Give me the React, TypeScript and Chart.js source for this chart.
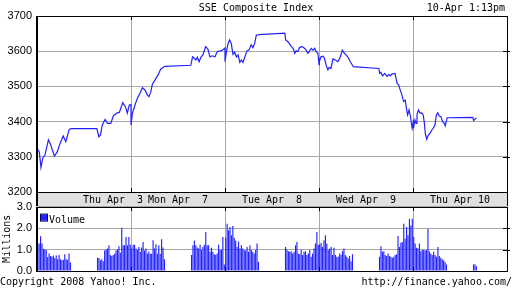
import React, { useEffect, useRef } from "react";
import { Chart, registerables } from "chart.js";

Chart.register(...registerables);

// ---------- text ----------
const TITLE = "SSE Composite Index";
const STAMP = "10-Apr 1:13pm";
const COPYRIGHT = "Copyright 2008 Yahoo! Inc.";
const SOURCE = "http://finance.yahoo.com/";
const VOLUME_LABEL = "Volume";
const VOLUME_AXIS_TITLE = "Millions";

// ---------- categories / ticks ----------
const dayLabels = ["Thu Apr  3", "Mon Apr  7", "Tue Apr  8", "Wed Apr  9", "Thu Apr 10"];
const priceTicks = [3200, 3300, 3400, 3500, 3600, 3700];
const volumeTicks = [0, 1, 2, 3];
const sessionOpen = "09:30";
const lunchOpen = "13:00";
const sessionClose = "15:00";
const barMinutes = 5;

// ---------- price (index level) ----------
const apr3Times = ["09:30","09:38","09:44","09:50","09:58","10:10","10:18","10:31","10:41","10:51","11:02","11:11","11:23","11:30","13:00","13:07","13:13","13:19","13:29","13:37","13:49","13:58","14:10","14:19","14:31","14:41","14:47","14:54","15:00"];
const apr3Prices = [3325,3314,3270,3296,3305,3348,3334,3302,3314,3338,3359,3343,3378,3380,3380,3357,3362,3390,3406,3395,3395,3416,3424,3426,3454,3441,3424,3447,3448];

const apr7Times = ["09:30","09:35","09:44","09:52","10:00","10:10","10:19","10:27","10:33","10:39","10:45","10:54","11:06","11:14","11:26","11:30","13:00","13:06","13:12","13:18","13:23","13:29","13:35","13:43","13:52","14:00","14:07","14:15","14:25","14:33","14:45","14:54","15:00"];
const apr7Prices = [3390,3424,3447,3466,3478,3496,3490,3476,3471,3483,3506,3518,3534,3549,3556,3557,3560,3584,3580,3575,3583,3570,3582,3591,3613,3606,3584,3587,3584,3599,3601,3605,3609];

const apr8Times = ["09:30","09:35","09:41","09:46","09:52","09:58","10:04","10:10","10:16","10:22","10:27","10:33","10:39","10:47","10:54","11:02","11:08","11:14","11:20","11:26","11:30","13:00","13:03","13:11","13:17","13:23","13:29","13:35","13:40","13:46","13:52","14:01","14:10","14:15","14:21","14:27","14:33","14:39","14:45","14:50","14:56","15:00"];
const apr8Prices = [3570,3599,3622,3632,3622,3591,3597,3584,3589,3568,3575,3568,3582,3601,3603,3618,3610,3622,3646,3646,3647,3651,3632,3627,3620,3613,3608,3594,3601,3599,3611,3613,3608,3603,3594,3601,3608,3603,3608,3599,3594,3562];

const apr9Times = ["09:30","09:33","09:37","09:44","09:49","09:56","10:01","10:06","10:12","10:19","10:27","10:36","10:43","10:47","10:52","10:59","11:06","11:14","11:20","11:29","11:30","13:00","13:03","13:07","13:13","13:21","13:29","13:35","13:40","13:46","13:57","14:04","14:10","14:15","14:21","14:27","14:33","14:36","14:41","14:46","14:51","14:57","15:00"];
const apr9Prices = [3580,3572,3584,3586,3580,3558,3547,3554,3551,3578,3575,3570,3580,3589,3603,3594,3589,3580,3570,3558,3556,3551,3537,3540,3530,3537,3528,3534,3530,3535,3537,3509,3504,3490,3476,3457,3461,3442,3419,3433,3414,3381,3395];

const apr10Times = ["09:30","09:33","09:37","09:41","09:44","09:49","09:55","10:01","10:06","10:10","10:13","10:18","10:24","10:30","10:36","10:41","10:47","10:52","10:57","11:02","11:08","11:14","11:20","11:23","11:29","11:30","13:00","13:03","13:08","13:13"];
const apr10Prices = [3405,3381,3405,3395,3419,3433,3424,3425,3419,3395,3367,3350,3362,3367,3376,3381,3390,3419,3425,3416,3414,3400,3395,3388,3407,3411,3412,3403,3407,3410];

// ---------- volume (millions, 5-minute bars) ----------
const apr3VolAM = [1.28,1.28,1.62,1.28,1.04,1.0,0.98,0.65,0.82,0.7,0.66,0.72,0.6,0.72,0.55,0.75,0.55,0.5,0.52,0.78,0.55,0.52,0.82,0.4];
const apr3VolPM = [0.62,0.6,0.5,0.55,0.45,0.95,1.0,1.05,1.2,0.75,0.7,0.75,0.8,0.95,1.0,1.15,0.85,2.02,1.2,1.2,1.58,1.2,1.58,1.22];
const apr7VolAM = [1.05,1.22,1.22,1.05,0.98,1.12,0.9,1.1,1.35,0.95,1.05,0.8,0.9,0.8,0.8,1.43,1.05,1.25,0.8,1.2,0.8,1.48,1.1,0.55];
const apr7VolPM = [0.75,1.2,1.42,1.2,1.1,1.05,1.22,0.98,1.12,1.22,1.82,1.2,1.2,0.9,1.08,0.9,0.78,0.75,0.82,1.22,0.98,1.0,1.58,0.3];
const apr8VolAM = [1.55,2.2,1.9,2.05,1.66,2.1,1.55,1.42,1.12,1.38,1.05,1.2,1.05,0.98,0.95,1.12,0.9,1.2,0.98,0.9,0.82,0.98,1.28,0.43];
const apr8VolPM = [1.12,1.0,0.92,0.9,0.92,0.82,0.9,1.2,1.35,0.82,0.78,0.98,0.75,0.9,0.92,0.75,0.82,0.98,0.66,0.82,1.05,1.28,1.82,1.22];
const apr9VolAM = [1.23,1.32,1.12,1.43,1.66,1.28,0.98,1.05,1.12,0.74,1.08,0.74,0.66,0.66,0.82,0.74,0.92,1.05,0.74,0.66,0.58,0.7,0.45,0.78];
const apr9VolPM = [0.66,1.15,0.9,0.92,0.74,0.7,0.82,0.7,0.66,0.62,0.66,0.74,0.78,1.63,1.12,1.32,1.35,2.2,1.5,2.05,1.66,2.43,2.12,2.43];
const apr10VolAM = [1.58,1.28,1.08,1.05,1.28,0.92,0.98,0.98,0.95,0.98,1.97,0.92,0.82,0.74,0.9,0.74,0.66,1.12,0.7,0.62,0.55,0.5,0.42,0.3];
const apr10VolPM = [0.3,0.32,0.22];

// ---------- derived ----------
const minutesOf = (t: string) => {
  const [h, m] = t.split(":").map(Number);
  return h * 60 + m;
};
const DAY_SPAN = minutesOf(sessionClose) - minutesOf(sessionOpen);
const xOf = (day: number, t: string) => day * DAY_SPAN + minutesOf(t) - minutesOf(sessionOpen);
const dayEdges = dayLabels.map((_, i) => i * DAY_SPAN).concat([dayLabels.length * DAY_SPAN]);

const priceDays = [
  [apr3Times, apr3Prices],
  [apr7Times, apr7Prices],
  [apr8Times, apr8Prices],
  [apr9Times, apr9Prices],
  [apr10Times, apr10Prices],
] as [string[], number[]][];
const pricePoints = priceDays.flatMap(([times, prices], d) =>
  times.map((t, j) => ({ x: xOf(d, t), y: prices[j] }))
);

const volumeDays = [
  [apr3VolAM, apr3VolPM],
  [apr7VolAM, apr7VolPM],
  [apr8VolAM, apr8VolPM],
  [apr9VolAM, apr9VolPM],
  [apr10VolAM, apr10VolPM],
];
const volumePoints = volumeDays.flatMap(([am, pm], d) => [
  ...am.map((v, k) => ({ x: xOf(d, sessionOpen) + k * barMinutes + barMinutes / 2, y: v })),
  ...pm.map((v, k) => ({ x: xOf(d, lunchOpen) + k * barMinutes + barMinutes / 2, y: v })),
]);

// ---------- styles ----------
const BLUE = "#2222ff";
const GRID = "#a8a8a8";
const BAND = "#e0e0e0";
const MONO = '"DejaVu Sans Mono", monospace';
const SANS = '"Liberation Sans", Arial, sans-serif';
const FIRST_LABEL_SHIFT = 29;

function drawFrame(chart: any, ctx: CanvasRenderingContext2D, xs: any, ys: any, yTickVals: number[]) {
  const { left, right, top, bottom } = chart.chartArea;
  ctx.save();
  ctx.fillStyle = "#000";
  ctx.fillRect(Math.round(left) - 1, Math.round(top), 2, Math.round(bottom - top) + 1);
  ctx.fillRect(Math.round(left) - 1, Math.round(top), Math.round(right - left) + 2, 1);
  ctx.fillRect(Math.round(left) - 1, Math.round(bottom), Math.round(right - left) + 2, 1);
  ctx.fillRect(Math.round(right), Math.round(top), 1, Math.round(bottom - top) + 1);
  dayEdges.slice(1, -1).forEach((v) => {
    const px = Math.round(xs.getPixelForValue(v));
    ctx.fillRect(px, Math.round(top), 1, 4);
    ctx.fillRect(px, Math.round(bottom) - 4, 1, 5);
  });
  yTickVals.forEach((v) => {
    const py = Math.round(ys.getPixelForValue(v));
    ctx.fillRect(Math.round(right) - 4, py, 7, 1);
  });
  ctx.restore();
}

const pricePlugin = {
  id: "priceDecor",
  afterDatasetsDraw(chart: any) {
    const ctx = chart.ctx as CanvasRenderingContext2D;
    const xs = chart.scales.x;
    const ys = chart.scales.y;
    const { left, right, bottom } = chart.chartArea;
    ctx.save();
    ctx.fillStyle = BAND;
    ctx.fillRect(Math.round(left), Math.round(bottom) + 1, Math.round(right - left), chart.height - Math.round(bottom) - 1);
    ctx.fillStyle = "#000";
    ctx.fillRect(Math.round(left) - 1, Math.round(bottom), 2, chart.height - Math.round(bottom));
    ctx.fillRect(Math.round(right), Math.round(bottom), 1, chart.height - Math.round(bottom));
    ctx.font = `10px ${MONO}`;
    ctx.textAlign = "center";
    ctx.textBaseline = "alphabetic";
    dayLabels.forEach((lab, i) => {
      let cx = xs.getPixelForValue(i * DAY_SPAN + DAY_SPAN / 2);
      if (i === 0) cx += FIRST_LABEL_SHIFT;
      ctx.fillText(lab, cx, 203);
    });
    ctx.fillText(TITLE, 256, 10.5);
    ctx.textAlign = "right";
    ctx.fillText(STAMP, 505, 10.5);
    ctx.restore();
    drawFrame(chart, ctx, xs, ys, priceTicks.slice(1, -1));
  },
};

const volumePlugin = {
  id: "volumeDecor",
  afterDatasetsDraw(chart: any) {
    const ctx = chart.ctx as CanvasRenderingContext2D;
    const xs = chart.scales.x;
    const ys = chart.scales.y;
    const { left, top } = chart.chartArea;
    drawFrame(chart, ctx, xs, ys, volumeTicks.slice(1, -1));
    ctx.save();
    ctx.fillStyle = BLUE;
    ctx.fillRect(left + 4, top + 8, 6, 6);
    ctx.strokeStyle = "#000060";
    ctx.lineWidth = 1;
    ctx.strokeRect(left + 3.5, top + 7.5, 7, 7);
    ctx.fillStyle = "#000";
    ctx.font = `10px ${MONO}`;
    ctx.textBaseline = "alphabetic";
    ctx.textAlign = "left";
    ctx.fillText(chart.data.datasets[0].label, left + 12, top + 16.5);
    ctx.fillText(COPYRIGHT, 0, chart.height - 3.5);
    ctx.textAlign = "right";
    ctx.fillText(SOURCE, 512, chart.height - 3.5);
    ctx.restore();
  },
};

export default function App() {
  const priceRef = useRef<HTMLCanvasElement>(null);
  const volRef = useRef<HTMLCanvasElement>(null);

  useEffect(() => {
    const priceChart = new Chart(priceRef.current!, {
      type: "line",
      data: {
        datasets: [
          {
            label: TITLE,
            data: pricePoints,
            borderColor: BLUE,
            borderWidth: 1.2,
            pointRadius: 0,
            tension: 0,
            fill: false,
          },
        ],
      },
      options: {
        animation: false,
        responsive: false,
        maintainAspectRatio: false,
        layout: { padding: { top: 16, right: 5, left: 0, bottom: 0 } },
        plugins: { legend: { display: false }, tooltip: { enabled: false } },
        scales: {
          x: {
            type: "linear",
            min: dayEdges[0],
            max: dayEdges[dayEdges.length - 1],
            afterBuildTicks: (s: any) => {
              s.ticks = dayEdges.map((v) => ({ value: v }));
            },
            ticks: { display: false },
            grid: { color: GRID, lineWidth: 1, drawTicks: false },
            border: { display: false },
            afterFit: (s: any) => {
              s.height = 14;
            },
          },
          y: {
            min: priceTicks[0],
            max: priceTicks[priceTicks.length - 1],
            afterBuildTicks: (s: any) => {
              s.ticks = priceTicks.map((v) => ({ value: v }));
            },
            ticks: {
              font: { family: SANS, size: 11 },
              color: "#000",
              padding: 5,
              callback: (v: any) => String(v),
            },
            grid: { color: GRID, lineWidth: 1, drawTicks: false },
            border: { display: false },
            afterFit: (s: any) => {
              s.width = 37;
            },
          },
        },
      },
      plugins: [pricePlugin],
    });

    const volumeChart = new Chart(volRef.current!, {
      type: "bar",
      data: {
        datasets: [
          {
            label: VOLUME_LABEL,
            data: volumePoints,
            backgroundColor: BLUE,
            borderWidth: 0,
            barPercentage: 1,
            categoryPercentage: 0.8,
          },
        ],
      },
      options: {
        animation: false,
        responsive: false,
        maintainAspectRatio: false,
        layout: { padding: { top: 11, right: 5, left: 0, bottom: 0 } },
        plugins: { legend: { display: false }, tooltip: { enabled: false } },
        scales: {
          x: {
            type: "linear",
            offset: false,
            min: dayEdges[0],
            max: dayEdges[dayEdges.length - 1],
            afterBuildTicks: (s: any) => {
              s.ticks = dayEdges.map((v) => ({ value: v }));
            },
            ticks: { display: false },
            grid: { color: GRID, lineWidth: 1, drawTicks: false, offset: false },
            border: { display: false },
            afterFit: (s: any) => {
              s.height = 17;
            },
          },
          y: {
            min: volumeTicks[0],
            max: volumeTicks[volumeTicks.length - 1],
            afterBuildTicks: (s: any) => {
              s.ticks = volumeTicks.map((v) => ({ value: v }));
            },
            ticks: {
              font: { family: SANS, size: 11 },
              color: "#000",
              padding: 5,
              callback: (v: any) => Number(v).toFixed(1),
            },
            title: {
              display: true,
              text: VOLUME_AXIS_TITLE,
              font: { family: '"DejaVu Sans Mono", monospace', size: 10 },
              color: "#000",
              padding: { top: 1.5, bottom: 0 },
            },
            grid: { color: GRID, lineWidth: 1, drawTicks: false },
            border: { display: false },
            afterFit: (s: any) => {
              s.width = 37;
            },
          },
        },
      },
      plugins: [volumePlugin],
    });

    return () => {
      priceChart.destroy();
      volumeChart.destroy();
    };
  }, []);

  return (
    <div style={{ position: "absolute", left: 0, top: 0, width: 512, height: 288, background: "#fff" }}>
      <canvas
        ref={priceRef}
        width={512}
        height={206}
        style={{ position: "absolute", left: 0, top: 0, width: 512, height: 206 }}
      />
      <canvas
        ref={volRef}
        width={512}
        height={93}
        style={{ position: "absolute", left: 0, top: 195, width: 512, height: 93 }}
      />
    </div>
  );
}
